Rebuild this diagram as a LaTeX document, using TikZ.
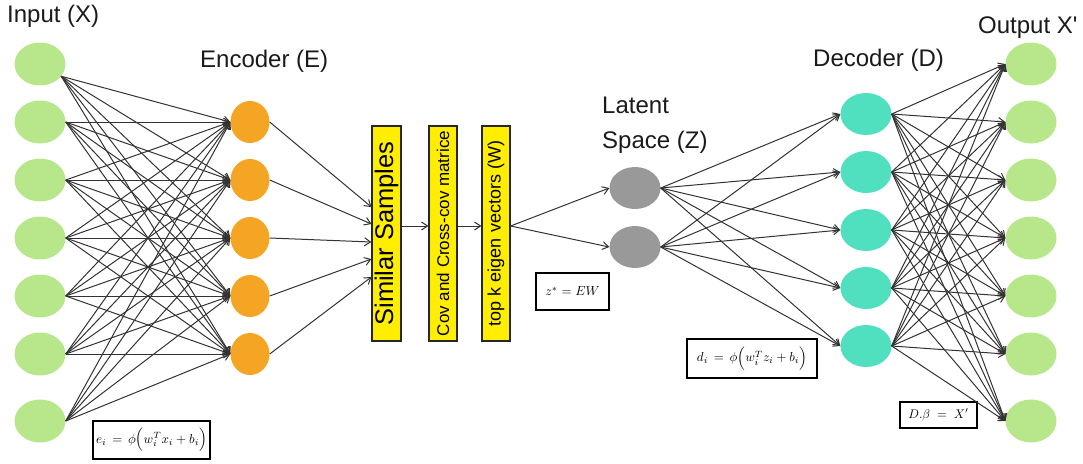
\documentclass[tikz,border=0pt]{standalone}
\usepackage{fontspec}
\setmainfont{Liberation Sans}
\usetikzlibrary{shapes.geometric,arrows.meta}
\definecolor{ingreen}{HTML}{B8E68A}
\definecolor{encorange}{HTML}{F4A523}
\definecolor{decteal}{HTML}{50E0C0}
\definecolor{latgray}{HTML}{999999}
\definecolor{boxyellow}{HTML}{FFEE00}
\definecolor{linegray}{HTML}{333333}
\definecolor{txt}{HTML}{1A1A1A}
\tikzset{
  neuron/.style={ellipse, draw=none, inner sep=0pt, minimum width=51pt, minimum height=43pt},
  inp/.style={neuron, fill=ingreen},
  enc/.style={neuron, fill=encorange, minimum width=39pt, minimum height=42pt},
  dec/.style={neuron, fill=decteal, minimum height=42pt},
  lat/.style={neuron, fill=latgray, minimum height=42pt},
  conn/.style={draw=linegray, line width=1pt, -{Straight Barb[length=6pt,width=8pt]}},
  ybox/.style={draw=black!85, line width=1.2pt, fill=boxyellow, inner sep=0pt, minimum width=28pt, minimum height=215pt},
  eqbox/.style={draw=black, line width=1.3pt, fill=white, inner sep=0pt},
  lbl/.style={inner sep=0pt, text=txt, font=\fontsize{24}{35}\selectfont},
}
\begin{document}
\begin{tikzpicture}[x=1pt,y=-1pt]
\useasboundingbox (0,0) rectangle (1083,463);
% labels
\node[lbl, anchor=west] (lin) at (7,16) {Input (X)};
\node[lbl, anchor=west] (lenc) at (200,61) {Encoder (E)};
\node[lbl, anchor=west, align=left] (llat) at (602,125) {Latent\\Space (Z)};
\node[lbl, anchor=west] (ldec) at (813,60) {Decoder (D)};
\node[lbl, anchor=west] (lout) at (978,28) {Output X\textquotesingle};
% input and output layers
\foreach \i/\y in {1/64,2/122,3/180,4/238,5/296,6/354,7/421} {
  \node[inp] (x\i) at (40,\y) {};
  \node[inp] (o\i) at (1031,\y) {};
}
% encoder
\foreach \i/\y in {1/122,2/180,3/238,4/296,5/354} {
  \node[enc] (e\i) at (250,\y) {};
}
% decoder
\foreach \i/\y in {1/114,2/172,3/230,4/288,5/346} {
  \node[dec] (d\i) at (866,\y) {};
}
% latent
\node[lat] (z1) at (635,188) {};
\node[lat] (z2) at (635,247) {};
% yellow boxes
\node[ybox, minimum width=29pt] (b1) at (386.5,233.5) {\rotatebox{90}{\fontsize{25.5}{28}\selectfont Similar Samples}};
\node[ybox] (b2) at (443,233.5) {\rotatebox{90}{\fontsize{17}{20}\selectfont Cov and Cross-cov matrice}};
\node[ybox] (b3) at (496,233.5) {\rotatebox{90}{\fontsize{18}{20}\selectfont top k eigen vectors (W)}};
% equation boxes
\node[eqbox, minimum width=117pt, minimum height=38pt] (eqe) at (151.5,440) {\scalebox{1.3}{$e_i \,=\, \phi\Big(w_i^T x_i + b_i\Big)$}};
\node[eqbox, minimum width=73pt, minimum height=37pt] (eqz) at (572.5,291.5) {\scalebox{1.3}{$z^{*} = EW$}};
\node[eqbox, minimum width=130pt, minimum height=39pt] (eqd) at (752,358.5) {\scalebox{1.3}{$d_i \,=\, \phi\Big(w_i^T z_i + b_i\Big)$}};
\node[eqbox, minimum width=77pt, minimum height=26pt] (eqb) at (938.5,415) {\scalebox{1.25}{$D.\beta \;=\; X'$}};
% input -> encoder
\foreach \j in {1,...,5} {
  \draw[conn] (x1.-30) -- (e\j.west);
  \foreach \i in {2,...,7} {
    \draw[conn] (x\i.east) -- (e\j.west);
  }
}
% encoder -> similar samples
\foreach \j/\s in {1/26.5,2/9.5,3/-8.5,4/-25.5,5/-43.5} {
  \draw[conn] (e\j.east) -- ([yshift=\s pt]b1.west);
}
% box chain
\draw[conn] ([yshift=7.5pt]b1.east) -- ([yshift=7.5pt]b2.west);
\draw[conn] ([yshift=7.5pt]b2.east) -- ([yshift=7.5pt]b3.west);
\draw[conn] ([yshift=7.5pt]b3.east) -- (z1.west);
\draw[conn] ([yshift=7.5pt]b3.east) -- (z2.west);
% latent -> decoder
\foreach \j in {1,...,5} {
  \draw[conn] (z1.east) -- (d\j.west);
  \draw[conn] (z2.east) -- (d\j.west);
}
% decoder -> output
\foreach \j in {1,...,5} {
  \foreach \i in {1,...,7} {
    \draw[conn] (d\j.east) -- (o\i.west);
  }
}
\end{tikzpicture}
\end{document}
